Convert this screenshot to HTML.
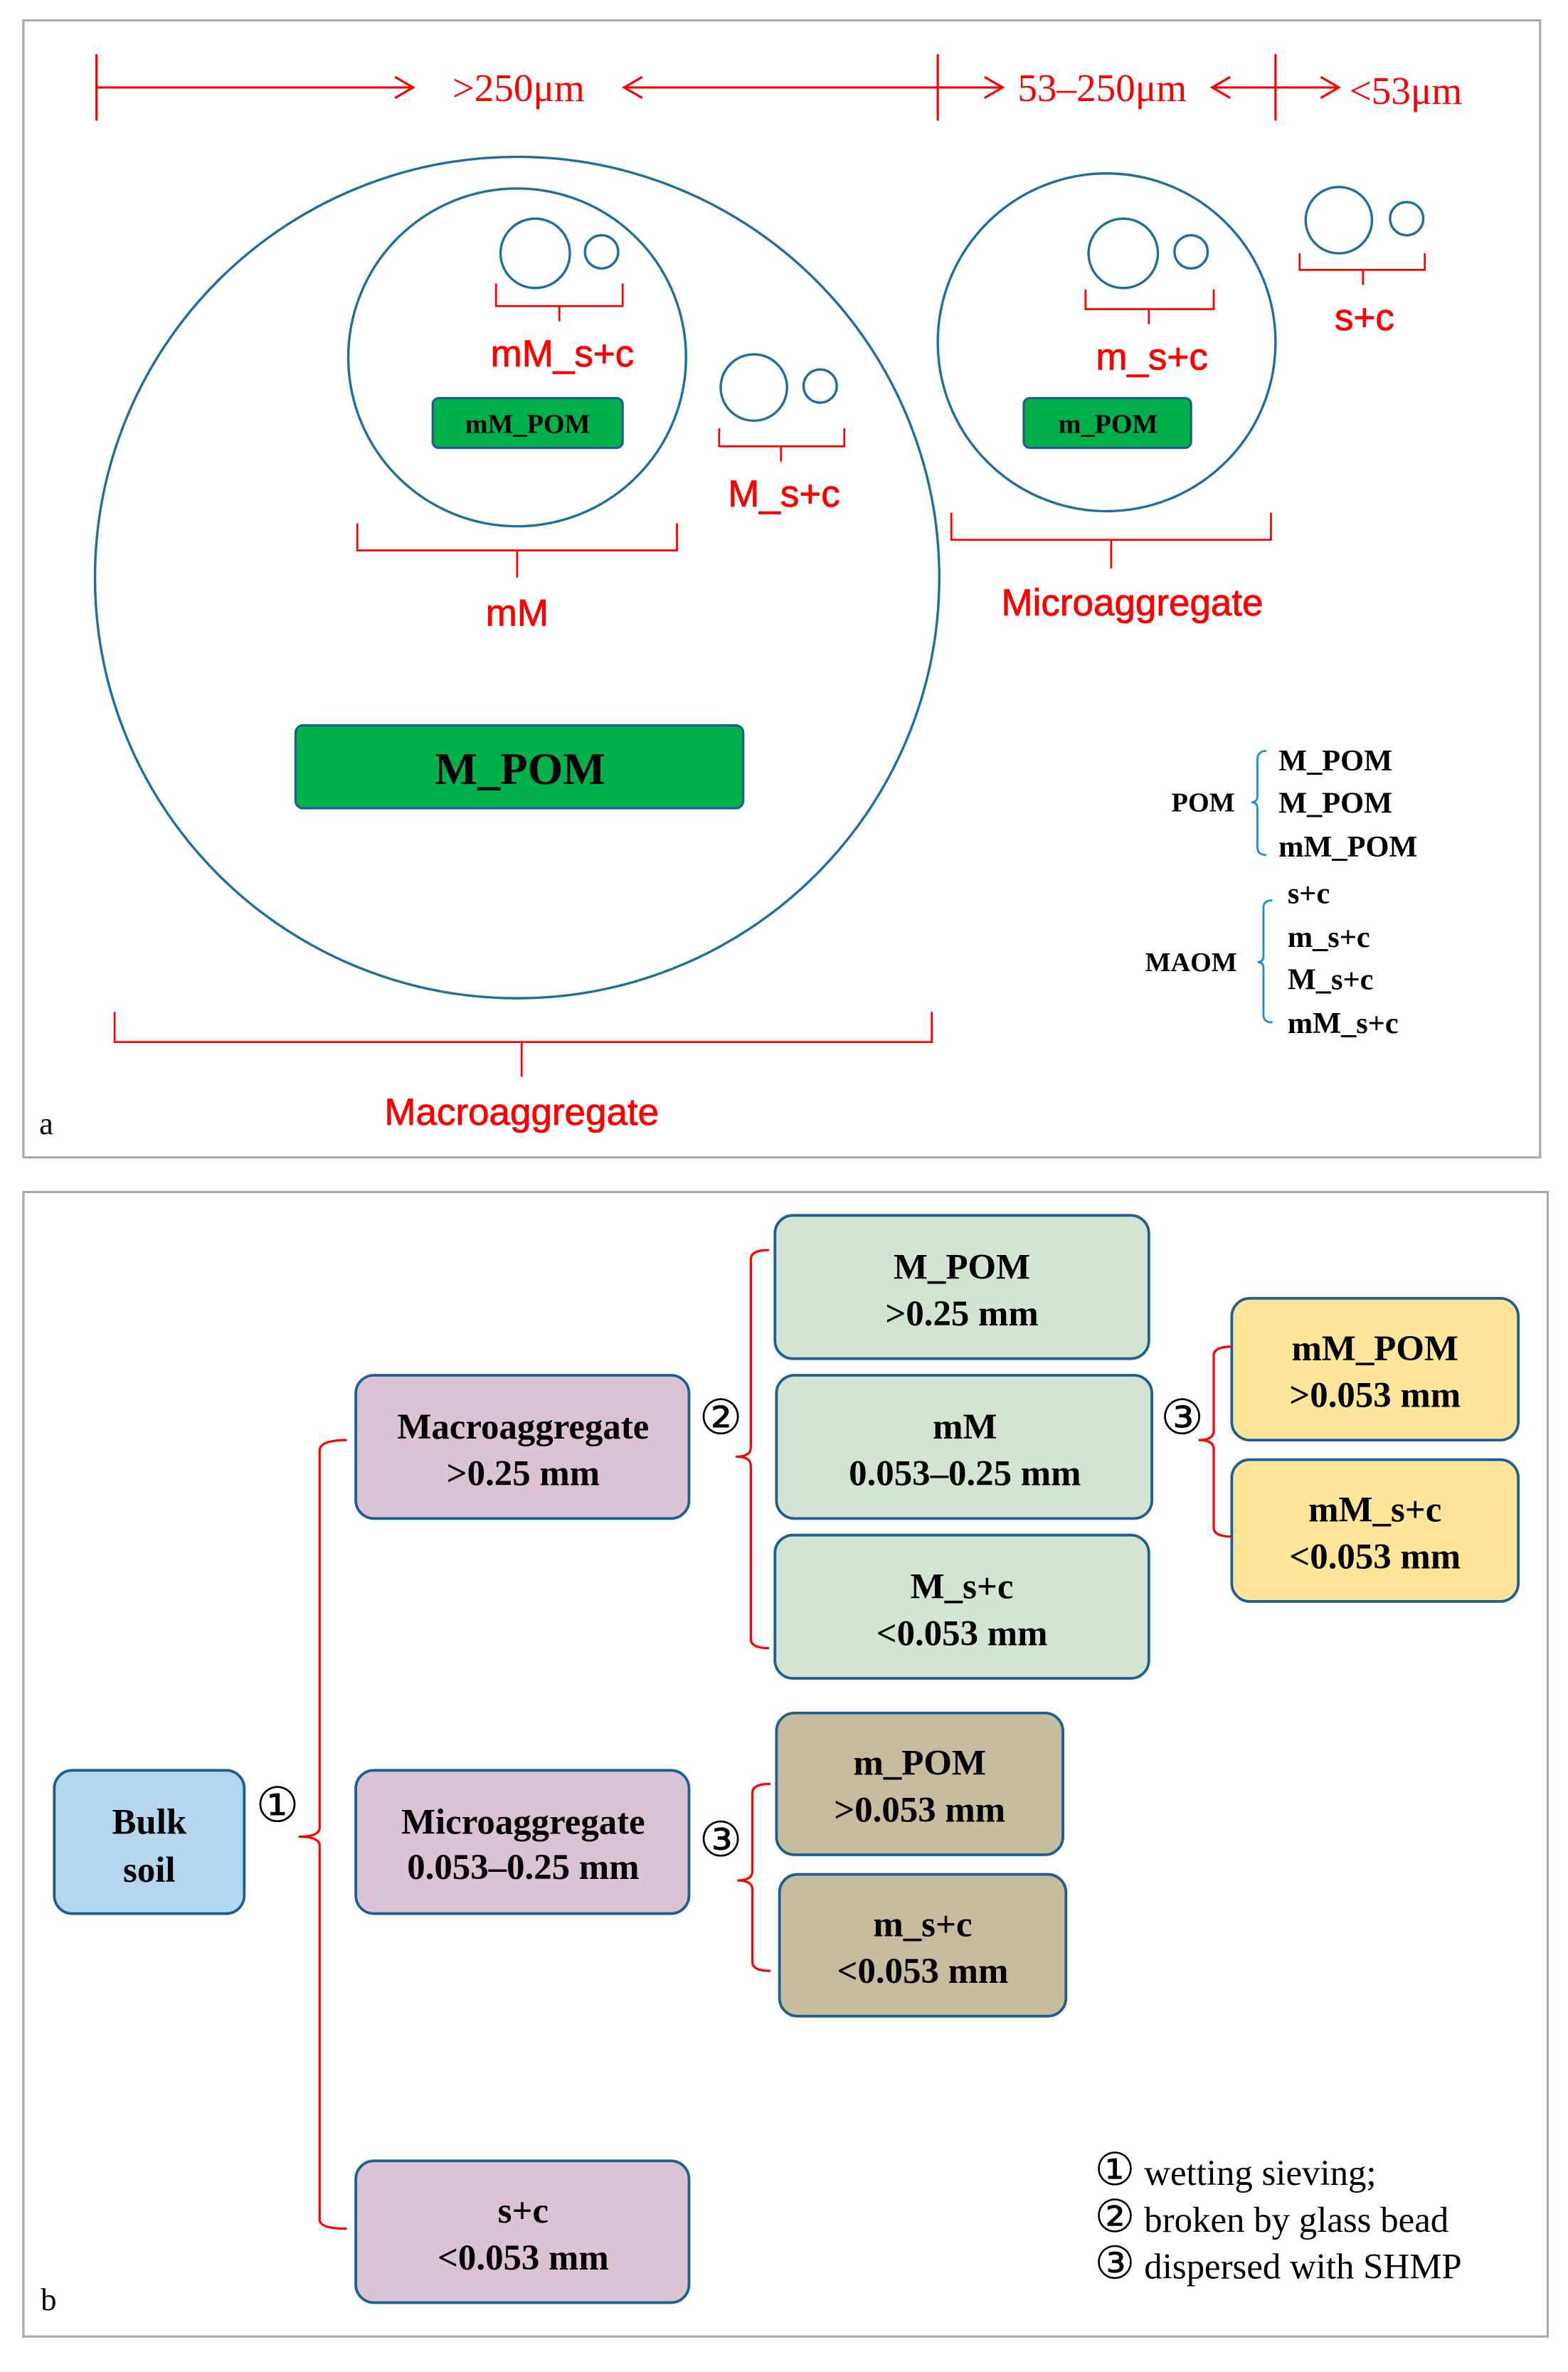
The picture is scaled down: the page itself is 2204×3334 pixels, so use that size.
<!DOCTYPE html>
<html><head><meta charset="utf-8"><style>
html,body{margin:0;padding:0;background:#fff}
svg{display:block}
.se{font-family:"Liberation Serif",serif}
.sa{font-family:"Liberation Sans",sans-serif}
</style></head><body>
<svg width="2204" height="3334" viewBox="0 0 1040 1573" preserveAspectRatio="none" xmlns="http://www.w3.org/2000/svg">
<rect width="1040" height="1573" fill="#fff"/>
<!-- panel a -->
<rect x="15.5" y="13.5" width="1006" height="754" fill="none" stroke="#aaa" stroke-width="1.5"/>
<g stroke="#f00" stroke-width="1.5" fill="none">
<line x1="64" y1="36" x2="64" y2="80"/><line x1="622" y1="36" x2="622" y2="80"/><line x1="846" y1="36" x2="846" y2="80"/>
<line x1="64" y1="58" x2="274" y2="58"/><polyline points="262,51 274,58 262,65"/>
<line x1="414" y1="58" x2="622" y2="58"/><polyline points="426,51 414,58 426,65"/>
<line x1="622" y1="58" x2="665" y2="58"/><polyline points="653,51 665,58 653,65"/>
<line x1="804" y1="58" x2="846" y2="58"/><polyline points="816,51 804,58 816,65"/>
<line x1="846" y1="58" x2="888" y2="58"/><polyline points="876,51 888,58 876,65"/>
</g>
<g class="se" fill="#f00" font-size="26">
<text x="300" y="67">&gt;250μm</text>
<text x="675" y="67">53–250μm</text>
<text x="895" y="69">&lt;53μm</text>
</g>
<g fill="none" stroke="#1f6e9e" stroke-width="1.6">
<ellipse cx="343" cy="383" rx="280" ry="279"/>
<circle cx="343" cy="237" r="112"/>
<circle cx="355" cy="168" r="23"/><circle cx="399" cy="167" r="11"/>
<circle cx="500" cy="257" r="22"/><circle cx="544" cy="256" r="11"/>
<circle cx="734" cy="227" r="112"/>
<circle cx="745" cy="168" r="23"/><circle cx="790" cy="167" r="11"/>
<circle cx="888" cy="146" r="22"/><circle cx="933" cy="145" r="11"/>
</g>
<g stroke="#f00" stroke-width="1.3" fill="none">
<path d="M329 188 V203 H413 V188 M371 203 V213"/>
<path d="M477 284 V296 H560 V284 M518 296 V306"/>
<path d="M237 347 V365 H449 V347 M343 365 V383"/>
<path d="M720 192 V205 H805 V192 M762 205 V215"/>
<path d="M631 340 V358 H843 V340 M737 358 V377"/>
<path d="M862 168 V179 H945 V168 M904 179 V189"/>
<path d="M76 671 V691 H618 V671 M346 691 V714"/>
</g>
<g class="sa" fill="#f00" font-size="25" text-anchor="middle" stroke="#f00" stroke-width="0.4">
<text x="373" y="243">mM_s+c</text>
<text x="520" y="336">M_s+c</text>
<text x="343" y="415">mM</text>
<text x="764" y="245">m_s+c</text>
<text x="751" y="408">Microaggregate</text>
<text x="905" y="219">s+c</text>
<text x="346" y="746">Macroaggregate</text>
</g>
<g stroke="#1f5f8f" stroke-width="1.5" fill="#00b04a">
<rect x="287" y="264" width="126" height="33" rx="4"/>
<rect x="679" y="264" width="111" height="33" rx="4"/>
<rect x="196" y="481" width="297" height="55" rx="5"/>
</g>
<g class="se" font-weight="bold" fill="#000" text-anchor="middle">
<text x="350" y="287" font-size="18">mM_POM</text>
<text x="735" y="287" font-size="18">m_POM</text>
<text x="345" y="520" font-size="30">M_POM</text>
</g>
<text class="se" x="26" y="752" font-size="21">a</text>
<g stroke="#1a8fd6" stroke-width="1.3" fill="none">
<path d="M840 498 Q834 498 834 504 V528 Q834 532 830 532 Q834 532 834 536 V562 Q834 567 840 567"/>
<path d="M844 597 Q838 597 838 602 V634 Q838 638 834 638 Q838 638 838 642 V673 Q838 678 844 678"/>
</g>
<g class="se" font-weight="bold" font-size="20">
<text x="798" y="538" font-size="18" text-anchor="middle">POM</text>
<text x="790" y="644" font-size="18" text-anchor="middle">MAOM</text>
<text x="848" y="511">M_POM</text><text x="848" y="539">M_POM</text><text x="848" y="568">mM_POM</text>
<text x="854" y="599">s+c</text><text x="854" y="628">m_s+c</text><text x="854" y="656">M_s+c</text><text x="854" y="685">mM_s+c</text>
</g>
<!-- panel b -->
<rect x="15.5" y="790.5" width="1011" height="759" fill="none" stroke="#aaa" stroke-width="1.5"/>
<g stroke="#1f5f8f" stroke-width="1.8">
<rect x="36" y="1174" width="126" height="95" rx="12" fill="#b4d7ee"/>
<rect x="236" y="912" width="221" height="95" rx="12" fill="#dbc3d3"/>
<rect x="236" y="1174" width="221" height="95" rx="12" fill="#dbc3d3"/>
<rect x="236" y="1433" width="221" height="94" rx="12" fill="#dbc3d3"/>
<rect x="514" y="806" width="248" height="95" rx="12" fill="#d4e4d3"/>
<rect x="515" y="912" width="249" height="95" rx="12" fill="#d4e4d3"/>
<rect x="514" y="1018" width="248" height="95" rx="12" fill="#d4e4d3"/>
<rect x="817" y="861" width="190" height="94" rx="12" fill="#fee599"/>
<rect x="817" y="968" width="190" height="94" rx="12" fill="#fee599"/>
<rect x="515" y="1136" width="190" height="94" rx="12" fill="#c7bc9d"/>
<rect x="517" y="1243" width="190" height="94" rx="12" fill="#c7bc9d"/>
</g>
<g stroke="#f00" stroke-width="1.5" fill="none">
<path d="M230 955 Q212 955 212 962 V1212 Q212 1218 198 1218 Q212 1218 212 1224 V1472 Q212 1478 230 1478"/>
<path d="M510 829 Q498 829 498 835 V960 Q498 966 488 966 Q498 966 498 972 V1087 Q498 1093 510 1093"/>
<path d="M817 893 Q805 893 805 899 V949 Q805 955 795 955 Q805 955 805 961 V1013 Q805 1019 817 1019"/>
<path d="M511 1183 Q499 1183 499 1189 V1241 Q499 1247 489 1247 Q499 1247 499 1253 V1301 Q499 1307 511 1307"/>
</g>
<g class="se" font-weight="bold" font-size="24" text-anchor="middle">
<text x="99" y="1216">Bulk</text><text x="99" y="1248">soil</text>
<text x="347" y="954">Macroaggregate</text><text x="347" y="985">&gt;0.25 mm</text>
<text x="347" y="1216">Microaggregate</text><text x="347" y="1246">0.053–0.25 mm</text>
<text x="347" y="1474">s+c</text><text x="347" y="1505">&lt;0.053 mm</text>
<text x="638" y="848">M_POM</text><text x="638" y="879">&gt;0.25 mm</text>
<text x="640" y="954">mM</text><text x="640" y="985">0.053–0.25 mm</text>
<text x="638" y="1060">M_s+c</text><text x="638" y="1091">&lt;0.053 mm</text>
<text x="912" y="902">mM_POM</text><text x="912" y="933">&gt;0.053 mm</text>
<text x="912" y="1009">mM_s+c</text><text x="912" y="1040">&lt;0.053 mm</text>
<text x="610" y="1177">m_POM</text><text x="610" y="1208">&gt;0.053 mm</text>
<text x="612" y="1284">m_s+c</text><text x="612" y="1315">&lt;0.053 mm</text>
</g>
<g class="se" font-size="32" text-anchor="middle">
<text x="184" y="1208">①</text><text x="478" y="951">②</text><text x="784" y="951">③</text><text x="478" y="1231">③</text>
</g>
<g class="se" font-size="24">
<text x="726" y="1449"><tspan font-size="30">①</tspan> wetting sieving;</text>
<text x="726" y="1480"><tspan font-size="30">②</tspan> broken by glass bead</text>
<text x="726" y="1511"><tspan font-size="30">③</tspan> dispersed with SHMP</text>
</g>
<text class="se" x="27" y="1532" font-size="21">b</text>
</svg>
</body></html>
